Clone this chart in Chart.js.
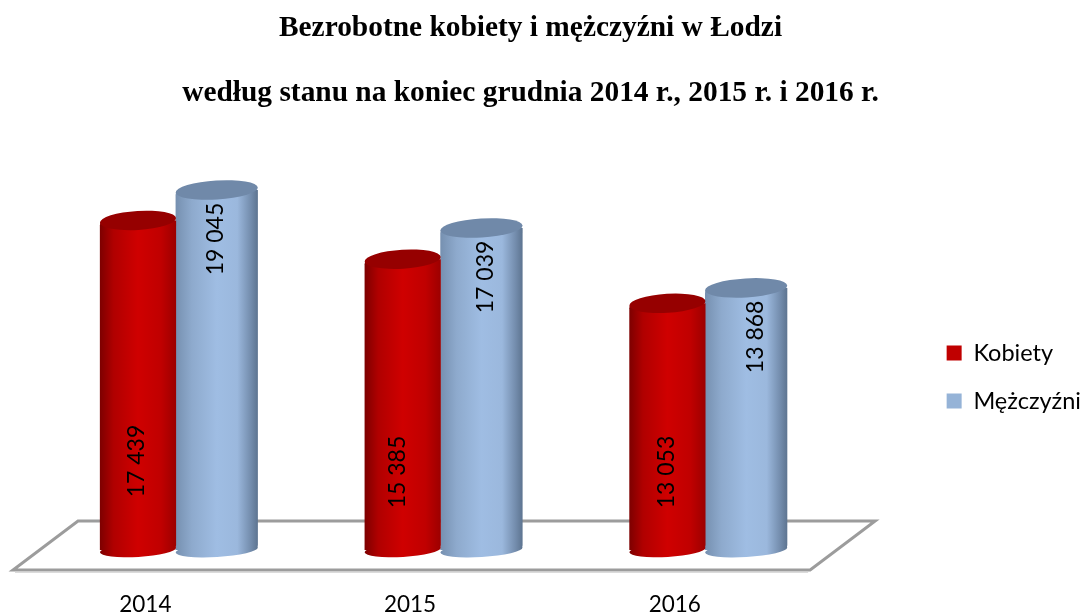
<!DOCTYPE html>
<html lang="pl">
<head>
<meta charset="utf-8">
<style>html,body{margin:0;padding:0;background:#fff}#w{width:1083px;height:616px}</style>
<script src="https://cdn.jsdelivr.net/npm/chart.js@4/dist/chart.umd.min.js"></script>
</head>
<body>
<div id="w"><canvas id="c"></canvas></div>
<script>
const titleLines = ['Bezrobotne kobiety i mężczyźni w Łodzi', 'według stanu na koniec grudnia 2014 r., 2015 r. i 2016 r.'];
const categories = ['2014', '2015', '2016'];
const kobiety = [17439, 15385, 13053];
const mezczyzni = [19045, 17039, 13868];

const stops = [
  {solid:'#C00000', cap:'#960000', edge:[[0,'#7d0000'],[.18,'#b00000'],[.5,'#cf0000'],[.8,'#c00000'],[1,'#9c0000']]},
  {solid:'#95B3D7', cap:'#7089A9', edge:[[0,'#7690b0'],[.2,'#8eaacd'],[.5,'#9fbde3'],[.75,'#9bb8dd'],[.92,'#728bab'],[1,'#5d7490']]}
];
const CAT = 0.595, BARS = [0.968, 1.045], TILT = -3.5 * Math.PI / 180, RY = 9.5, RY_BASE = 7;
const fmt = v => String(v).replace(/\B(?=(\d{3})+$)/g, ' ');

function barGrad(chart, left, right, ds) {
  const g = chart.ctx.createLinearGradient(left, 0, right, 0);
  stops[ds].edge.forEach(s => g.addColorStop(s[0], s[1]));
  return g;
}
function fill(ctx) {
  const ds = ctx.datasetIndex, solid = stops[ds].solid;
  if (ctx.type !== 'data') return solid;
  const chart = ctx.chart, x = chart.scales.x;
  if (!x) return solid;
  const step = x.getPixelForValue(1) - x.getPixelForValue(0);
  const c = x.getPixelForValue(ctx.dataIndex);
  if (!Number.isFinite(step) || !Number.isFinite(c) || step <= 0) return solid;
  const slot = step * CAT / 2;
  const mid = ds === 0 ? c - slot / 2 : c + slot / 2;
  const w = slot * BARS[ds];
  return barGrad(chart, mid - w / 2, mid + w / 2, ds);
}

const cylinder = {
  id: 'cylinder',
  afterLayout(chart) {
    chart.titleBlock.right -= 11;
    chart.titleBlock.left -= 11;
    chart.legend.top += 69;
    chart.legend.bottom += 69;
    chart.legend.left += 8;
    chart.legend.right += 8;
  },
  beforeDatasetsDraw(chart) {
    const {ctx, chartArea: a} = chart;
    const pts = [[a.left - 32, a.bottom + 20], [a.right - 29, a.bottom + 20], [a.right + 36, a.bottom - 29], [a.left + 33, a.bottom - 29]];
    ctx.save();
    ctx.strokeStyle = '#9c9c9c';
    ctx.lineWidth = 3;
    ctx.lineJoin = 'miter';
    ctx.beginPath();
    pts.forEach((p, i) => i ? ctx.lineTo(p[0], p[1]) : ctx.moveTo(p[0], p[1]));
    ctx.closePath();
    ctx.stroke();
    ctx.strokeStyle = '#cfcfcf';
    ctx.lineWidth = 1.5;
    ctx.beginPath();
    ctx.moveTo(pts[0][0] + 2, pts[0][1] + 2);
    ctx.lineTo(pts[1][0] - 2, pts[1][1] + 2);
    ctx.stroke();
    ctx.restore();
  },
  beforeDatasetDraw(chart, args) {
    const {ctx} = chart, ds = args.index;
    chart.getDatasetMeta(ds).data.forEach(b => {
      const l = b.x - b.width / 2, r = b.x + b.width / 2;
      ctx.save();
      ctx.fillStyle = barGrad(chart, l, r, ds);
      ctx.beginPath();
      ctx.ellipse(b.x, b.base, b.width / 2, RY_BASE, TILT, 0, Math.PI * 2);
      ctx.fill();
      ctx.restore();
    });
  },
  afterDatasetDraw(chart, args) {
    const {ctx} = chart, ds = args.index;
    chart.getDatasetMeta(ds).data.forEach(b => {
      ctx.save();
      ctx.fillStyle = stops[ds].cap;
      ctx.beginPath();
      ctx.ellipse(b.x, b.y, b.width / 2, RY, TILT, 0, Math.PI * 2);
      ctx.fill();
      ctx.restore();
    });
  },
  afterDatasetsDraw(chart) {
    const {ctx} = chart;
    const nudge = [[0, -4, 0], [0, 5, 10]];
    chart.data.datasets.forEach((d, ds) => {
      chart.getDatasetMeta(ds).data.forEach((b, i) => {
        const y = ds === 0 ? b.base - (i === 0 ? 89 : 78) : b.y + 49;
        ctx.save();
        ctx.translate(b.x - 1 + nudge[ds][i], y);
        ctx.rotate(-Math.PI / 2);
        ctx.font = '23px Lato';
        ctx.fillStyle = '#000';
        ctx.textAlign = 'center';
        ctx.textBaseline = 'middle';
        ctx.fillText(fmt(d.data[i]), 0, 0);
        ctx.restore();
      });
    });
  }
};
const radius = {topLeft: 5, topRight: 0, bottomLeft: 0, bottomRight: 5};

new Chart(document.getElementById('c'), {
  type: 'bar',
  data: {
    labels: categories,
    datasets: [
      {label: 'Kobiety', data: kobiety, backgroundColor: fill, barPercentage: BARS[0], categoryPercentage: CAT, borderRadius: radius, borderSkipped: false},
      {label: 'Mężczyźni', data: mezczyzni, backgroundColor: fill, barPercentage: BARS[1], categoryPercentage: CAT, borderRadius: radius, borderSkipped: false}
    ]
  },
  options: {
    responsive: true,
    maintainAspectRatio: false,
    animation: false,
    layout: {padding: 0},
    plugins: {
      title: {
        display: true,
        text: titleLines,
        color: '#000',
        font: {family: '"Liberation Serif"', size: 29.4, weight: 'bold', lineHeight: 65 / 29.4},
        padding: {top: -4, bottom: 46}
      },
      legend: {
        position: 'right',
        labels: {
          color: '#000',
          font: {family: 'Lato', size: 23.5},
          boxWidth: 15,
          boxHeight: 15,
          padding: 24.5,
          generateLabels(chart) {
            return Chart.defaults.plugins.legend.labels.generateLabels(chart).map((it, i) => Object.assign(it, {fillStyle: stops[i].solid, strokeStyle: stops[i].solid, lineWidth: 0}));
          }
        }
      },
      tooltip: {enabled: false}
    },
    scales: {
      x: {
        grid: {display: false},
        border: {display: false},
        ticks: {color: '#000', font: {family: 'Lato', size: 22.5}, labelOffset: -32, padding: 33, maxRotation: 0},
        afterFit: s => { s.height = 66; }
      },
      y: {
        min: 0,
        max: 20000,
        grid: {display: false},
        border: {display: false},
        ticks: {display: false},
        afterFit: s => { s.width = 45; }
      },
      y2: {
        position: 'right',
        grid: {display: false},
        border: {display: false},
        ticks: {display: false},
        afterFit: s => { s.width = 75; }
      }
    }
  },
  plugins: [cylinder]
});
</script>
</body>
</html>
